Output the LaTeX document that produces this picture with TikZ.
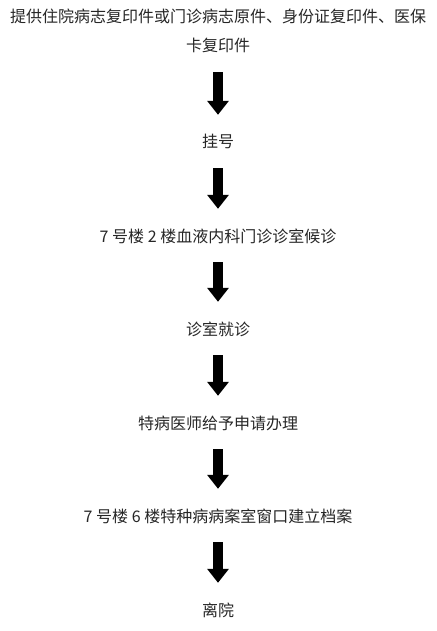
\documentclass[tikz,border=0pt]{standalone}
\usepackage{fontspec}
\setmainfont{Noto Sans CJK SC}
\usetikzlibrary{arrows.meta}
\begin{document}
\begin{tikzpicture}[x=1pt,y=-1pt,
  txt/.style={inner sep=0pt, font=\fontsize{16}{29}\selectfont, text=black!85, text height=13pt, text depth=3pt},
  flow/.style={line width=10pt, -{Triangle[width=21pt,length=14pt]}, shorten <=17pt, shorten >=20pt}]
\useasboundingbox (0,0) rectangle (436,631);
\node[txt] (t1) at (218,18) {提供住院病志复印件或门诊病志原件、身份证复印件、医保};
\node[txt] (t1b) at (218,47) {卡复印件};
\node[txt] (t2) at (218,143) {挂号};
\node[txt] (t3) at (218,237) {7 号楼 2 楼血液内科门诊诊室候诊};
\node[txt] (t4) at (218,330) {诊室就诊};
\node[txt] (t5) at (218,424) {特病医师给予申请办理};
\node[txt] (t6) at (218,517) {7 号楼 6 楼特种病病案室窗口建立档案};
\node[txt] (t7) at (218,611) {离院};
\draw[flow] (t1b) -- (t2);
\draw[flow] (t2) -- (t3);
\draw[flow] (t3) -- (t4);
\draw[flow] (t4) -- (t5);
\draw[flow] (t5) -- (t6);
\draw[flow] (t6) -- (t7);
\end{tikzpicture}
\end{document}
